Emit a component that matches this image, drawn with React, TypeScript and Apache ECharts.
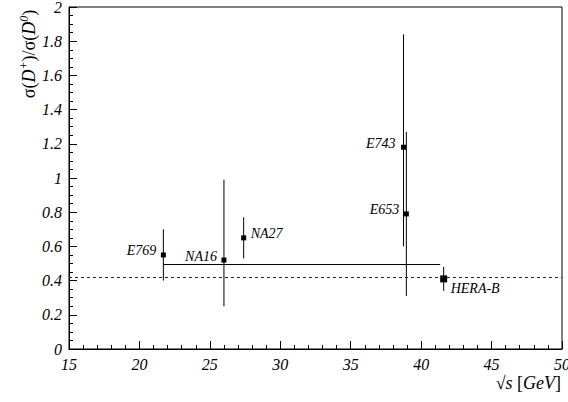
import React, { useEffect, useRef } from 'react';
import * as echarts from 'echarts';

// Experiments and measured D+/D0 cross-section ratios
const experiments = ['E769', 'NA16', 'NA27', 'E743', 'E653', 'HERA-B'];
const sqrtS = [21.7, 26.0, 27.4, 38.75, 38.95, 41.6];
const ratio = [0.55, 0.52, 0.65, 1.18, 0.79, 0.41];
const errUp = [0.15, 0.47, 0.12, 0.66, 0.48, 0.07];
const errDown = [0.15, 0.27, 0.12, 0.58, 0.48, 0.07];

// Average of the measurements (solid line) and reference level (dashed line)
const averageRange = [21.7, 41.35];
const averageValue = 0.494;
const referenceLevel = 0.42;

const xTicks = { min: 15, max: 50, interval: 5 };
const yTicks = { min: 0, max: 2, interval: 0.2 };

const SERIF = 'Liberation Serif';

function axisLabelStyle() {
  return {
    show: true,
    fontFamily: SERIF,
    fontStyle: 'italic',
    fontSize: 16,
    color: '#000',
    margin: 7,
  };
}

export default function App() {
  const ref = useRef<HTMLDivElement>(null);

  useEffect(() => {
    if (!ref.current) return;
    const chart = echarts.init(ref.current, null, { renderer: 'svg' });

    const placement: Record<string, { dx: number; dy: number; align: string; size: number }> = {
      E769: { dx: -7, dy: -4, align: 'right', size: 5 },
      NA16: { dx: -7, dy: -4, align: 'right', size: 5 },
      NA27: { dx: 7, dy: -4, align: 'left', size: 5 },
      E743: { dx: -8, dy: -4, align: 'right', size: 5 },
      E653: { dx: -7, dy: -4, align: 'right', size: 5 },
      'HERA-B': { dx: 7, dy: 10, align: 'left', size: 7 },
    };

    const points = experiments.map((name, i) => [
      sqrtS[i],
      ratio[i],
      ratio[i] + errUp[i],
      ratio[i] - errDown[i],
      i,
    ]);

    const option: any = {
      animation: false,
      grid: {
        left: 69,
        right: 6,
        top: 7,
        bottom: 53,
        show: true,
        borderColor: '#000',
        borderWidth: 1,
        backgroundColor: 'transparent',
        containLabel: false,
        outerBoundsMode: 'none',
      },
      xAxis: {
        type: 'value',
        min: xTicks.min,
        max: xTicks.max,
        interval: xTicks.interval,
        axisLine: { show: true, lineStyle: { color: '#000', width: 1 } },
        axisTick: { show: true, inside: true, length: 8, lineStyle: { color: '#000' } },
        minorTick: { show: true, splitNumber: 5, length: 4, lineStyle: { color: '#000' } },
        splitLine: { show: false },
        axisLabel: axisLabelStyle(),
      },
      yAxis: {
        type: 'value',
        min: yTicks.min,
        max: yTicks.max,
        interval: yTicks.interval,
        axisLine: { show: true, lineStyle: { color: '#000', width: 1 } },
        axisTick: { show: true, inside: true, length: 8, lineStyle: { color: '#000' } },
        minorTick: { show: true, splitNumber: 4, length: 4, lineStyle: { color: '#000' } },
        splitLine: { show: false },
        axisLabel: axisLabelStyle(),
      },
      graphic: [
        {
          type: 'text',
          x: 29,
          y: 54,
          rotation: Math.PI / 2,
          style: {
            text: 'σ({i|D}{sup|+})/σ({i|D}{sup|0})',
            fontFamily: SERIF,
            fontSize: 18,
            fill: '#000',
            align: 'center',
            verticalAlign: 'middle',
            rich: {
              i: { fontFamily: SERIF, fontStyle: 'italic', fontSize: 18, lineHeight: 22 },
              sup: { fontFamily: SERIF, fontStyle: 'italic', fontSize: 12, verticalAlign: 'top', lineHeight: 22, padding: [0, 0, 10, 0] },
            },
          },
        },
        {
          type: 'text',
          x: 561,
          y: 383,
          style: {
            text: '√{i|s} [{i|GeV}]',
            fontFamily: SERIF,
            fontSize: 18,
            fill: '#000',
            align: 'right',
            verticalAlign: 'middle',
            rich: {
              i: { fontFamily: SERIF, fontStyle: 'italic', fontSize: 18 },
            },
          },
        },
      ],
      series: [
        {
          type: 'line',
          data: [
            [averageRange[0], averageValue],
            [averageRange[1], averageValue],
          ],
          symbol: 'none',
          lineStyle: { color: '#000', width: 1 },
          silent: true,
          markLine: {
            silent: true,
            symbol: 'none',
            label: { show: false },
            lineStyle: { color: '#222', width: 1, type: [3, 3] },
            data: [{ yAxis: referenceLevel }],
          },
          z: 2,
        },
        {
          type: 'custom',
          data: points,
          encode: { x: 0, y: 1 },
          clip: false,
          z: 3,
          renderItem: (params: any, api: any) => {
            const idx = api.value(4);
            const name = experiments[idx];
            const p = placement[name];
            const c = api.coord([api.value(0), api.value(1)]);
            const hi = api.coord([api.value(0), api.value(2)]);
            const lo = api.coord([api.value(0), api.value(3)]);
            const s = p.size;
            return {
              type: 'group',
              children: [
                {
                  type: 'line',
                  shape: { x1: c[0], y1: hi[1], x2: c[0], y2: lo[1] },
                  style: { stroke: '#000', lineWidth: 1 },
                },
                {
                  type: 'rect',
                  shape: { x: c[0] - s / 2, y: c[1] - s / 2, width: s, height: s },
                  style: { fill: '#000' },
                },
                {
                  type: 'text',
                  x: c[0] + p.dx,
                  y: c[1] + p.dy,
                  style: {
                    text: name,
                    fontFamily: SERIF,
                    fontStyle: 'italic',
                    fontSize: 14,
                    fill: '#000',
                    align: p.align,
                    verticalAlign: 'middle',
                  },
                },
              ],
            };
          },
        },
      ],
    };

    chart.setOption(option);
    return () => chart.dispose();
  }, []);

  return (
    <div
      ref={ref}
      style={{ position: 'fixed', left: 0, top: 0, width: 568, height: 402, background: '#fff' }}
    />
  );
}
